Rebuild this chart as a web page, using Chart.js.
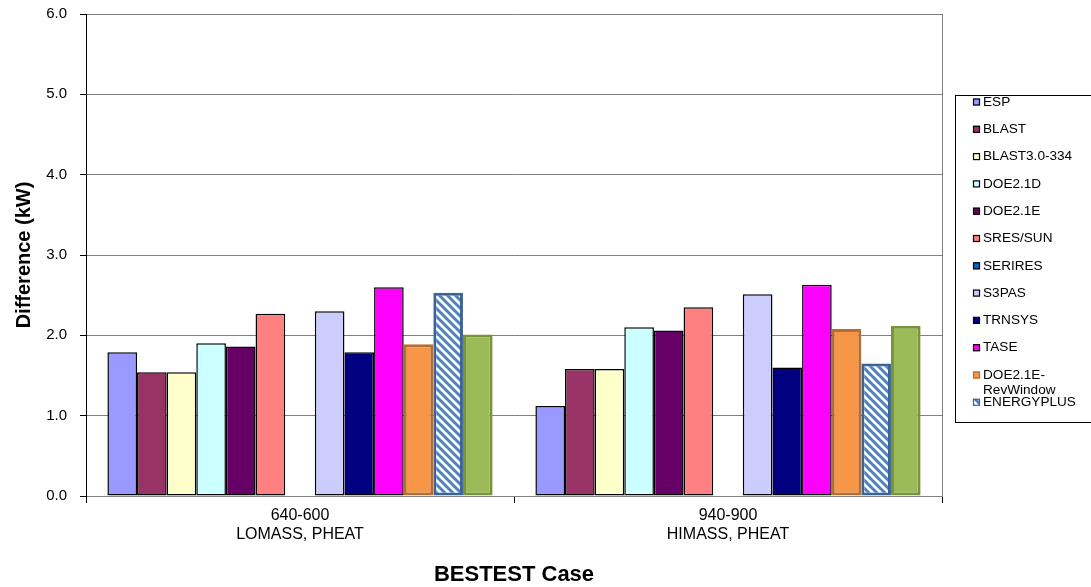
<!DOCTYPE html>
<html lang="en">
<head>
<meta charset="UTF-8">
<title>BESTEST peak heating difference</title>
<script src="https://cdn.jsdelivr.net/npm/chart.js"></script>
<style>
    html, body { margin: 0; padding: 0; background: #fff; }
    #grafico { display: block; }
</style>
</head>
<body>
<canvas id="grafico" width="1091" height="587"></canvas>
<script>
    // casos (duas linhas por rótulo)
    var casos = [['640-600', 'LOMASS, PHEAT'], ['940-900', 'HIMASS, PHEAT']]

    // programas e valores (kW)
    var programas = ['ESP', 'BLAST', 'BLAST3.0-334', 'DOE2.1D', 'DOE2.1E', 'SRES/SUN', 'SERIRES',
        'S3PAS', 'TRNSYS', 'TASE', 'DOE2.1E-RevWindow', 'ENERGYPLUS', '']
    var esp = [1.79, 1.12]
    var blast = [1.54, 1.58]
    var blast334 = [1.54, 1.58]
    var doe21d = [1.90, 2.10]
    var doe21e = [1.86, 2.06]
    var sresSun = [2.27, 2.35]
    var serires = [null, null]
    var s3pas = [2.30, 2.51]
    var trnsys = [1.79, 1.60]
    var tase = [2.60, 2.63]
    var doeRevWindow = [1.89, 2.08]
    var energyPlus = [2.53, 1.65]
    var extra = [2.01, 2.12]

    var yTicks = [0, 1, 2, 3, 4, 5, 6]

    // hachura diagonal do EnergyPlus
    function hachura() {
        const c = document.createElement('canvas')
        c.width = 8
        c.height = 8
        const g = c.getContext('2d')
        g.fillStyle = '#ffffff'
        g.fillRect(0, 0, 8, 8)
        g.strokeStyle = '#4F81BD'
        g.lineWidth = 3
        g.beginPath()
        for (const k of [-8, 0, 8]) {
            g.moveTo(k - 2, -2)
            g.lineTo(k + 10, 10)
        }
        g.stroke()
        return g.createPattern(c, 'repeat')
    }
    const padrao = hachura()

    function serie(i, valores, cor, borda, largura) {
        return {
            label: programas[i],
            data: valores,
            backgroundColor: cor,
            borderColor: borda || '#000000',
            borderWidth: largura || 1.5,
            borderSkipped: false
        }
    }

    const fonte = "'Liberation Sans', Arial, sans-serif"

    // legenda desenhada à direita, com moldura
    const legendaCaixa = {
        id: 'legendaCaixa',
        afterDraw(chart) {
            const ctx = chart.ctx
            ctx.save()
            ctx.strokeStyle = '#000000'
            ctx.lineWidth = 1
            ctx.strokeRect(955.5, 95.5, 140, 327)

            ctx.font = '13.6px ' + fonte
            ctx.textBaseline = 'middle'
            ctx.fillStyle = '#000'
            let y = 102
            chart.data.datasets.forEach(ds => {
                if (!ds.label) return
                ctx.fillStyle = ds.backgroundColor
                ctx.fillRect(973, y - 3.5, 7, 7)
                ctx.strokeStyle = ds.borderColor
                ctx.lineWidth = 1.2
                ctx.strokeRect(973.5, y - 3, 6, 6)
                ctx.fillStyle = '#000'
                let texto = ds.label
                if (ctx.measureText(texto).width > 100 && texto.indexOf('-') > 0) {
                    const p = texto.indexOf('-') + 1
                    ctx.fillText(texto.slice(0, p), 983, y)
                    ctx.fillText(texto.slice(p), 983, y + 15)
                } else {
                    ctx.fillText(texto, 983, y)
                }
                y += 27.3
            })
            ctx.restore()
        }
    }

    // fundo branco e borda direita da área do gráfico
    const moldura = {
        id: 'moldura',
        beforeDraw(chart) {
            const ctx = chart.ctx
            ctx.save()
            ctx.fillStyle = '#ffffff'
            ctx.fillRect(0, 0, chart.width, chart.height)
            ctx.restore()
        },
        afterDatasetsDraw(chart) {
            const a = chart.chartArea
            const ctx = chart.ctx
            ctx.save()
            ctx.strokeStyle = '#808080'
            ctx.lineWidth = 1
            ctx.beginPath()
            ctx.moveTo(Math.round(a.right) + 0.5, a.top)
            ctx.lineTo(Math.round(a.right) + 0.5, a.bottom)
            ctx.stroke()
            ctx.restore()
        }
    }

    new Chart(document.getElementById('grafico'), {
        type: 'bar',
        data: {
            labels: casos,
            datasets: [
                serie(0, esp, '#9999FF'),
                serie(1, blast, '#993366'),
                serie(2, blast334, '#FFFFCC'),
                serie(3, doe21d, '#CCFFFF'),
                serie(4, doe21e, '#660066'),
                serie(5, sresSun, '#FF8080'),
                serie(6, serires, '#0066CC'),
                serie(7, s3pas, '#CCCCFF'),
                serie(8, trnsys, '#000080'),
                serie(9, tase, '#FF00FF'),
                serie(10, doeRevWindow, '#F79646', '#B66D31', 3),
                serie(11, energyPlus, padrao, '#3A6496', 3),
                serie(12, extra, '#9BBB59', '#77933C', 3)
            ]
        },
        options: {
            responsive: false,
            animation: false,
            devicePixelRatio: 1,
            categoryPercentage: 0.9,
            barPercentage: 1,
            layout: { padding: { top: 14, right: 149, left: 0, bottom: 0 } },
            plugins: {
                legend: { display: false },
                tooltip: { enabled: false }
            },
            scales: {
                x: {
                    afterFit: s => { s.height = 91 },
                    grid: {
                        drawOnChartArea: false,
                        drawTicks: true,
                        tickLength: 7,
                        tickColor: '#000000',
                        offset: true
                    },
                    border: { color: '#808080' },
                    ticks: {
                        color: '#000',
                        padding: 3,
                        font: { family: fonte, size: 16, lineHeight: 1.2 }
                    },
                    title: {
                        display: true,
                        text: 'BESTEST Case',
                        color: '#000',
                        font: { family: fonte, size: 22, weight: 'bold', lineHeight: 1 },
                        padding: { top: 0, bottom: 1 }
                    }
                },
                y: {
                    min: 0,
                    max: 6,
                    afterFit: s => {
                        s.width = 86
                        // só meia altura do rótulo nas pontas
                        s.paddingTop = 9
                        s.paddingBottom = 9
                    },
                    afterBuildTicks: s => { s.ticks = yTicks.map(v => ({ value: v })) },
                    grid: {
                        color: '#808080',
                        tickColor: '#000000',
                        tickLength: 6
                    },
                    border: { color: '#000000' },
                    ticks: {
                        color: '#000',
                        padding: 13,
                        font: { family: fonte, size: 15 },
                        callback: v => v.toFixed(1)
                    },
                    title: {
                        display: true,
                        text: 'Difference (kW)',
                        color: '#000',
                        font: { family: fonte, size: 20, weight: 'bold', lineHeight: 1.2 },
                        padding: { top: 12, bottom: 0 }
                    }
                }
            }
        },
        plugins: [moldura, legendaCaixa]
    })
</script>
</body>
</html>
